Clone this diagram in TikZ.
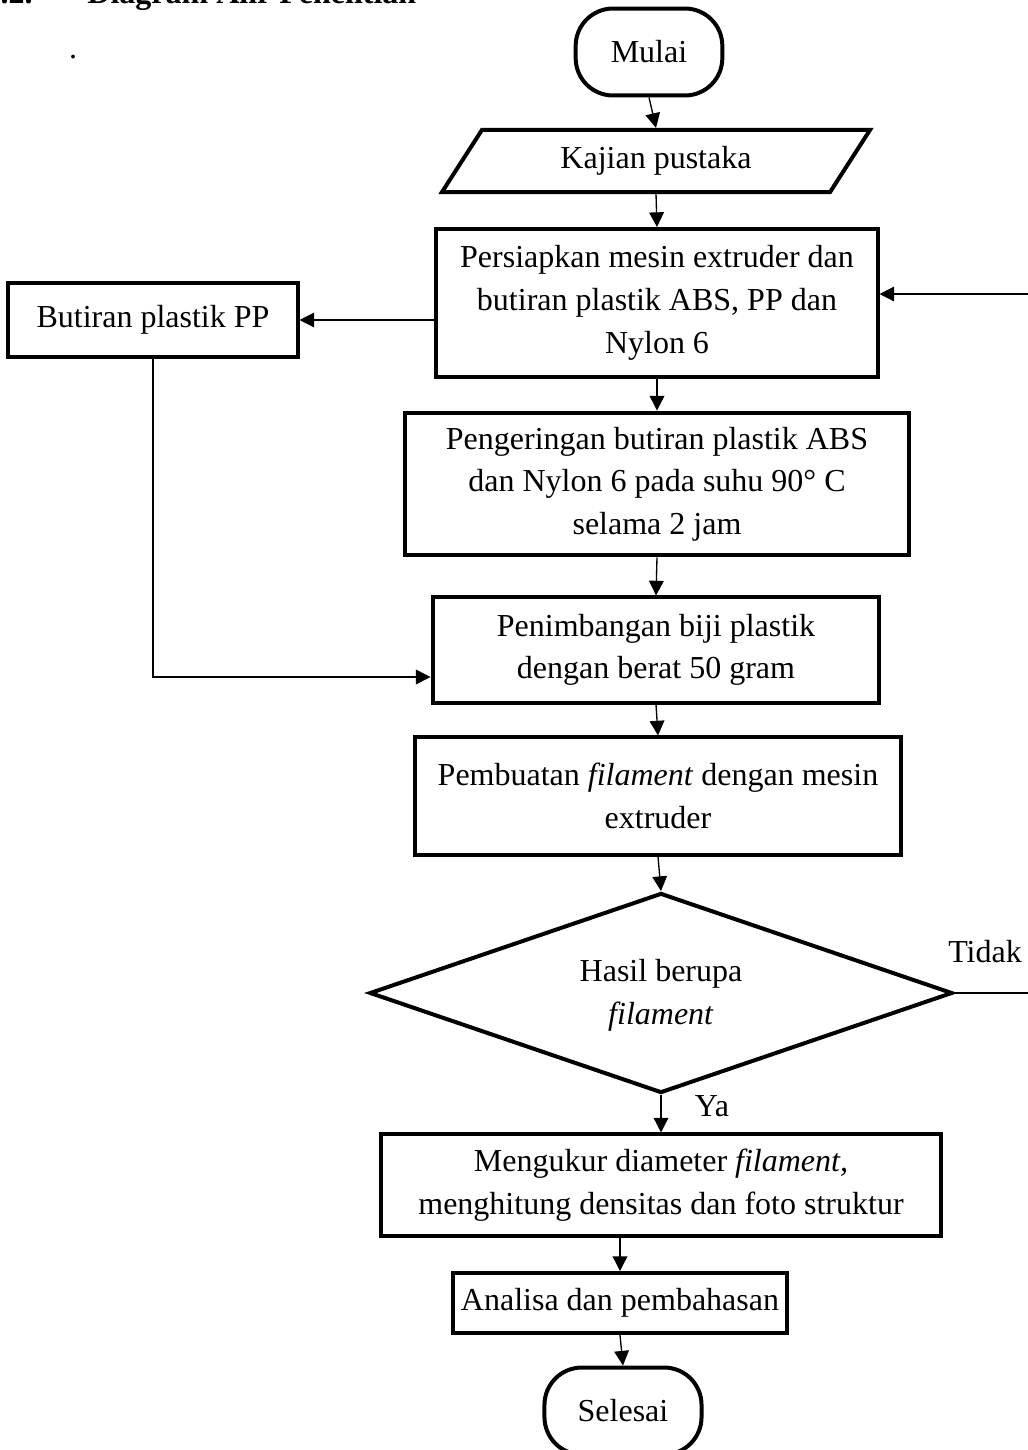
\documentclass[tikz,border=0pt]{standalone}
\usepackage{fontspec}
\setmainfont{Liberation Serif}
\usetikzlibrary{arrows.meta,calc,shapes.geometric}

\begin{document}
\begin{tikzpicture}[x=0.375pt,y=-0.375pt,
  font=\fontsize{12}{16}\selectfont,
  box/.style={draw,line width=1.5pt,align=center,inner sep=0pt},
  term/.style={box,rounded corners=14pt,minimum width=55pt,minimum height=32.6pt},
  line/.style={line width=0.5pt,-{Triangle[length=5.5pt,width=5.5pt]}}]
  \useasboundingbox (0,0) rectangle (1028,1450);
  % heading (cut at the top edge)
  \node[anchor=base east,font=\fontsize{12}{16}\selectfont\bfseries] (nomor) at (42,3) {3.2.};
  \node[anchor=base west,font=\fontsize{12}{16}\selectfont\bfseries] (judul) at (78,3) {Diagram Alir Penelitian};
  \node[anchor=base] (titik) at (73,58) {.};
  % main flow
  \node[term] (mulai) at (649,52) {Mulai};
  \node[box,trapezium,trapezium left angle=36,trapezium right angle=144,
    trapezium stretches body,minimum width=160.5pt,minimum height=23.3pt] (kajian) at (656,161) {Kajian pustaka};
  \node[box,minimum width=165.4pt,minimum height=55.5pt] (persiapan) at (657,303)
    {Persiapkan mesin extruder dan\\butiran plastik ABS, PP dan\\Nylon 6};
  \node[box,minimum width=108.4pt,minimum height=28.1pt] (butiran) at (153,320) {Butiran plastik PP};
  \node[box,minimum width=189pt,minimum height=53.6pt] (pengeringan) at (657,484)
    {Pengeringan butiran plastik ABS\\dan Nylon 6 pada suhu 90° C\\selama 2 jam};
  \node[box,minimum width=167.6pt,minimum height=39.4pt] (penimbangan) at (656,650)
    {Penimbangan biji plastik\\dengan berat 50 gram};
  \node[box,minimum width=182.6pt,minimum height=43.9pt] (pembuatan) at (658,796)
    {Pembuatan \textit{filament} dengan mesin\\extruder};
  \node[box,diamond,aspect=2.9,minimum width=218.6pt,minimum height=75pt] (hasil) at (661,993)
    {\raisebox{-3.6pt}[0pt][0pt]{\begin{tabular}{@{}c@{}}Hasil berupa\\\textit{filament}\end{tabular}}};
  \node[box,minimum width=210pt,minimum height=37.9pt] (mengukur) at (661,1185)
    {Mengukur diameter \textit{filament,}\\menghitung densitas dan foto struktur};
  \node[box,minimum width=125.6pt,minimum height=22.5pt] (analisa) at (620,1303) {Analisa dan pembahasan};
  \node[term,minimum width=58.9pt] (selesai) at (623,1411) {Selesai};
  \node (tidak) at (985,952) {Tidak};
  \node (ya) at (712,1106) {Ya};
  % connectors
  \draw[line] (mulai.south) -- (kajian.north);
  \draw[line] (kajian.south) -- (persiapan.north);
  \draw[line] (persiapan.south) -- (pengeringan.north);
  \draw[line] (pengeringan.south) -- (penimbangan.north);
  \draw[line] (penimbangan.south) -- (pembuatan.north);
  \draw[line] (pembuatan.south) -- (hasil.north);
  \draw[line] (hasil.south) -- (mengukur.north);
  \draw[line] (mengukur.south -| analisa.north) -- (analisa.north);
  \draw[line] (analisa.south) -- (selesai.north);
  \draw[line] (persiapan.west |- butiran.east) -- (butiran.east);
  \draw[line] (butiran.south) |- ($(penimbangan.west)+(0,27)$);
  \draw[line] (hasil.east) -- ++(100,0) |- ($(persiapan.east)+(0,-9)$);
\end{tikzpicture}
\end{document}
